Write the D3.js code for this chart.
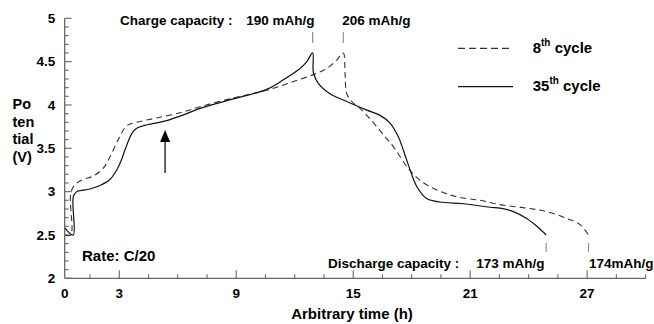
<!DOCTYPE html>
<html>
<head>
<meta charset="utf-8">
<script src="https://cdn.jsdelivr.net/npm/d3@7"></script>
<style>
  html, body { margin: 0; padding: 0; background: #fff; }
  svg { display: block; font-family: "Liberation Sans", Arial, Helvetica, sans-serif; font-weight: bold; }
</style>
</head>
<body>
<svg id="chart" width="654" height="324"></svg>
<script>
// 8th cycle: charge then discharge, potential (V) against time (h)
const cycle8Time = [0.215, 0.51, 0.51, 0.73, 1.15, 1.67, 2.18, 2.52, 2.95, 3.38, 3.89, 4.92, 6.29, 7.14, 8.85, 10.56, 11.93, 12.96, 13.64, 14.16, 14.49,
  14.58, 14.67, 14.93, 15.35, 15.78, 16.21, 16.64, 17.06, 17.75, 18.43, 19.29, 20.31, 21.51, 22.54, 23.90, 24.93, 25.96, 26.64, 27.07];
const cycle8Potential = [2.50, 2.50, 2.98, 3.08, 3.14, 3.18, 3.27, 3.40, 3.60, 3.76, 3.80, 3.85, 3.92, 3.98, 4.08, 4.17, 4.27, 4.35, 4.42, 4.52, 4.60,
  4.37, 4.13, 4.04, 3.96, 3.86, 3.75, 3.63, 3.52, 3.29, 3.13, 3.02, 2.94, 2.90, 2.85, 2.81, 2.77, 2.69, 2.62, 2.50];

// 35th cycle
const cycle35Time = [0.215, 0.64, 0.64, 0.82, 0.99, 1.50, 2.01, 2.52, 2.87, 3.12, 3.29, 3.64, 3.89, 4.23, 5.43, 6.46, 7.14, 8.85, 10.56, 11.42, 12.27, 12.62, 12.92,
  12.96, 13.21, 13.81, 14.67, 15.70, 16.38, 16.89, 17.32, 17.57, 17.92, 18.26, 18.77, 19.45, 20.65, 22.02, 22.54, 23.22, 23.90, 24.42, 24.90];
const cycle35Potential = [2.58, 2.50, 2.94, 3.00, 3.01, 3.03, 3.07, 3.14, 3.25, 3.37, 3.48, 3.67, 3.73, 3.76, 3.82, 3.90, 3.96, 4.07, 4.18, 4.29, 4.42, 4.50, 4.60,
  4.37, 4.25, 4.13, 4.04, 3.94, 3.88, 3.79, 3.63, 3.48, 3.25, 3.06, 2.92, 2.88, 2.86, 2.82, 2.81, 2.77, 2.69, 2.60, 2.50];

// Axis ticks and labels
const xMajorTicks = [3, 9, 15, 21, 27];
const xMinorStep = 1.5;
const yMajorTicks = [2, 2.5, 3, 3.5, 4, 4.5, 5];
const yMinorStep = 0.1;
const yTitleLines = ["Po", "ten", "tial", "(V)"];

// Capacities per cycle (8th, 35th)
const cycleNames = ["8", "35"];
const chargeCapacity = [206, 190];
const dischargeCapacity = [174, 173];

// Arrow marking the plateau change on the 35th cycle
const arrowTime = 5.35;
const arrowFrom = 3.215;
const arrowTo = 3.71;

const svg = d3.select("#chart");

const x = d3.scaleLinear().domain([0.2, 30]).range([64.7, 645.6]);
const y = d3.scaleLinear().domain([2, 5]).range([278.3, 18.3]);

const axisColor = "#666";

// ---- axes ----
const xAxis = svg.append("g").attr("transform", `translate(0,${y(2)})`);
xAxis.append("line").attr("x1", x(0.2)).attr("x2", x(30)).attr("stroke", axisColor).attr("stroke-width", 1.3);
const xMinor = d3.range(1.5, 30.01, xMinorStep).filter(v => !xMajorTicks.includes(v));
xAxis.selectAll(".xminor").data(xMinor).join("line")
  .attr("x1", d => x(d)).attr("x2", d => x(d)).attr("y1", 0).attr("y2", -4)
  .attr("stroke", axisColor).attr("stroke-width", 1.1);
xAxis.selectAll(".xmajor").data(xMajorTicks).join("line")
  .attr("x1", d => x(d)).attr("x2", d => x(d)).attr("y1", 0).attr("y2", -8)
  .attr("stroke", axisColor).attr("stroke-width", 1.1);
xAxis.selectAll(".xlab").data([0.2, ...xMajorTicks]).join("text")
  .attr("x", d => x(d)).attr("y", 19.5).attr("text-anchor", "middle")
  .attr("font-size", 13.5).attr("fill", "#000")
  .text(d => d === 0.2 ? "0" : d);

const yAxis = svg.append("g").attr("transform", `translate(${x(0.2)},0)`);
yAxis.append("line").attr("y1", y(2)).attr("y2", y(5)).attr("stroke", axisColor).attr("stroke-width", 1.3);
const yMinor = d3.range(2.1, 5.0, yMinorStep).map(v => +v.toFixed(1)).filter(v => !yMajorTicks.includes(v));
yAxis.selectAll(".yminor").data(yMinor).join("line")
  .attr("y1", d => y(d)).attr("y2", d => y(d)).attr("x1", 0).attr("x2", 4)
  .attr("stroke", axisColor).attr("stroke-width", 1.1);
yAxis.selectAll(".ymajor").data(yMajorTicks).join("line")
  .attr("y1", d => y(d)).attr("y2", d => y(d)).attr("x1", 0).attr("x2", 7)
  .attr("stroke", axisColor).attr("stroke-width", 1.1);
yAxis.selectAll(".ylab").data(yMajorTicks).join("text")
  .attr("x", -9.5).attr("y", d => y(d)).attr("dy", "0.36em").attr("text-anchor", "end")
  .attr("font-size", 13.5).attr("fill", "#000")
  .text(d => d);

// axis titles
svg.append("text").attr("x", 352).attr("y", 319).attr("text-anchor", "middle")
  .attr("font-size", 15).attr("fill", "#000").text("Arbitrary time (h)");
svg.append("g").selectAll("text").data(yTitleLines).join("text")
  .attr("x", 12.5).attr("y", (d, i) => 109 + i * 17.7)
  .attr("font-size", 14.5).attr("fill", "#000").text(d => d);

// ---- curves ----
const line = d3.line()
  .x(d => x(d[0])).y(d => y(d[1]))
  .curve(d3.curveCatmullRom.alpha(0.5));

const cycle8 = d3.zip(cycle8Time, cycle8Potential);
const cycle35 = d3.zip(cycle35Time, cycle35Potential);

svg.append("path").datum(cycle8).attr("d", line)
  .attr("fill", "none").attr("stroke", "#333").attr("stroke-width", 1.1)
  .attr("stroke-dasharray", "6,4");
svg.append("path").datum(cycle35).attr("d", line)
  .attr("fill", "none").attr("stroke", "#111").attr("stroke-width", 1.2);

// ---- capacity markers and labels ----
const cycles = [cycle8, cycle35];
const chargeEnd = cycles.map(c => c[d3.maxIndex(c, d => d[1])][0]);
const dischargeEnd = cycles.map(c => c[c.length - 1][0]);
const markerColor = "#8a8a8a";

svg.selectAll(".cmark").data(chargeEnd).join("line")
  .attr("x1", d => x(d)).attr("x2", d => x(d)).attr("y1", 32).attr("y2", 43)
  .attr("stroke", markerColor).attr("stroke-width", 1.1);
svg.selectAll(".dmark").data(dischargeEnd).join("line")
  .attr("x1", d => x(d)).attr("x2", d => x(d)).attr("y1", 243).attr("y2", 252)
  .attr("stroke", markerColor).attr("stroke-width", 1.1);

svg.append("text").attr("x", 120).attr("y", 25).attr("font-size", 13.5).attr("fill", "#000")
  .text("Charge capacity :");
svg.append("text").attr("x", x(chargeEnd[1]) - 66.5).attr("y", 25).attr("font-size", 13.5).attr("fill", "#000")
  .text(`${chargeCapacity[1]} mAh/g`);
svg.append("text").attr("x", x(chargeEnd[0]) - 1).attr("y", 25).attr("font-size", 13.5).attr("fill", "#000")
  .text(`${chargeCapacity[0]} mAh/g`);

svg.append("text").attr("x", 328).attr("y", 267.5).attr("font-size", 13.5).attr("fill", "#000")
  .text("Discharge capacity :");
svg.append("text").attr("x", x(dischargeEnd[1]) - 70).attr("y", 267.5).attr("font-size", 13.5).attr("fill", "#000")
  .text(`${dischargeCapacity[1]} mAh/g`);
svg.append("text").attr("x", x(dischargeEnd[0]) + 0.5).attr("y", 267.5).attr("font-size", 13.5).attr("fill", "#000")
  .text(`${dischargeCapacity[0]}mAh/g`);

svg.append("text").attr("x", 82).attr("y", 261).attr("font-size", 15).attr("fill", "#000")
  .text("Rate: C/20");

// ---- arrow ----
const ax = x(arrowTime), ayTip = y(arrowTo);
svg.append("line").attr("x1", ax).attr("x2", ax).attr("y1", y(arrowFrom)).attr("y2", ayTip + 10)
  .attr("stroke", "#111").attr("stroke-width", 1.3);
svg.append("path")
  .attr("d", `M${ax},${ayTip} L${ax - 5},${ayTip + 12} L${ax + 5},${ayTip + 12} Z`)
  .attr("fill", "#000");

// ---- legend ----
const legend = svg.append("g");
const legendRows = [
  { name: cycleNames[0], y: 48.3, dash: "7,4", stroke: "#333" },
  { name: cycleNames[1], y: 86.7, dash: null, stroke: "#111" }
];
legendRows.forEach(r => {
  legend.append("line").attr("x1", 458).attr("x2", 513).attr("y1", r.y).attr("y2", r.y)
    .attr("stroke", r.stroke).attr("stroke-width", 1.2)
    .attr("stroke-dasharray", r.dash);
  const t = legend.append("text").attr("x", 532.7).attr("y", r.y + 4.5)
    .attr("font-size", 15).attr("fill", "#000");
  t.append("tspan").text(r.name);
  t.append("tspan").attr("font-size", 10).attr("dy", -7).text("th");
  t.append("tspan").attr("dy", 7).text(" cycle");
});
</script>
</body>
</html>
